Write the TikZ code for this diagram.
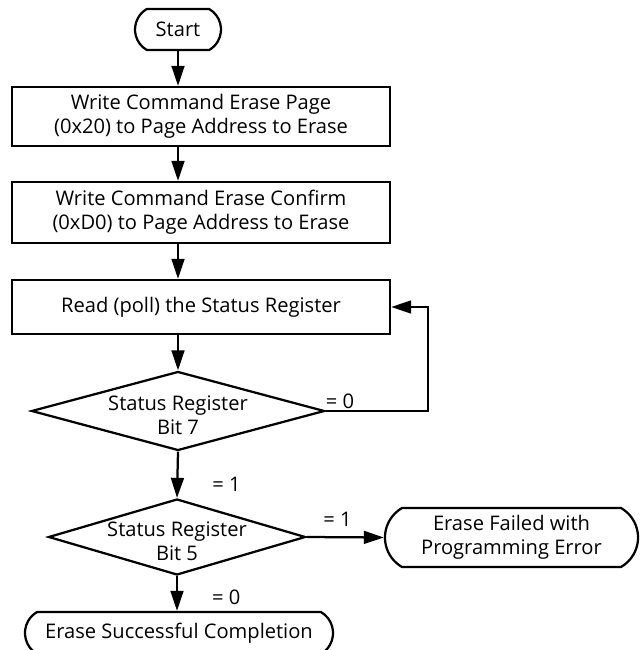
\documentclass[tikz,border=0pt]{standalone}
\usepackage{fontspec}
\setmainfont{Open Sans}
\usepackage{tikz}
\usetikzlibrary{shapes.geometric, shapes.misc, arrows.meta, positioning}
\tikzstyle{terminal} = [rounded rectangle, rounded rectangle arc length=120, minimum height=1.025cm, inner sep=0pt, text centered, align=center, draw=black, line width=1.6pt, font=\fontsize{14.3}{17}\selectfont]
\tikzstyle{process} = [rectangle, minimum width=9.45cm, inner sep=0pt, text centered, align=center, draw=black, line width=1.6pt, font=\fontsize{14.3}{17}\selectfont]
\tikzstyle{decision} = [diamond, aspect=3.7, inner sep=0pt, text centered, draw=black, line width=1.6pt, font=\fontsize{14.3}{17}\selectfont]
\tikzstyle{arrow} = [line width=1.6pt, -{Triangle[length=0.5cm, width=0.32cm]}, draw=black]
\tikzstyle{cond} = [inner sep=0pt, font=\fontsize{14.3}{17}\selectfont]
% text in the diamonds sits a little low
\newcommand{\dtext}[1]{\raisebox{-0.3cm}[0pt][0pt]{\begin{tabular}{@{}c@{}}#1\end{tabular}}}

\begin{document}
\begin{tikzpicture}[x=0.025cm, y=0.025cm]
        \useasboundingbox (0,0) rectangle (640,-650);
        % Nodes
        \node (start) [terminal, minimum width=2.15cm] at (178,-29.5) {Start};
        \node (pro1) [process, minimum height=1.475cm] at (201,-116.5) {Write Command Erase Page\\(0x20) to Page Address to Erase};
        \node (pro2) [process, minimum height=1.525cm] at (201,-212.5) {Write Command Erase Confirm\\(0xD0) to Page Address to Erase};
        \node (poll) [process, minimum height=1.35cm] at (201,-307) {Read (poll) the Status Register};
        \node (bit7) [decision, minimum width=7.325cm, minimum height=1.975cm] at (178,-411) {\dtext{Status Register\\Bit 7}};
        \node (bit5) [decision, minimum width=6.425cm, minimum height=1.9cm] at (177,-537) {\dtext{Status Register\\Bit 5}};
        \node (fail) [terminal, minimum width=6.325cm, minimum height=1.475cm] at (511.5,-537.5) {Erase Failed with\\Programming Error};
        \node (done) [terminal, minimum width=7.7cm, minimum height=1.05cm] at (179,-633) {Erase Successful Completion};
        \coordinate (back) at (428,-411);

        % Arrows
        \draw [arrow] (start.south) -- (start.south |- pro1.north);
        \draw [arrow] (start.south |- pro1.south) -- (start.south |- pro2.north);
        \draw [arrow] (start.south |- pro2.south) -- (start.south |- poll.north);
        \draw [arrow] (bit7.north |- poll.south) -- (bit7.north);

        % polling loop
        \draw [arrow] (bit7.east) -- node[cond, pos=0.14, above=1pt] {= 0} (back) |- (poll.east);
        \draw [arrow] (bit7.south) -- node[cond, pos=0.7, right=0.85cm] {= 1} (bit5.north);
        \draw [arrow] (bit5.east) -- node[cond, pos=0.4, above=0.25cm] {= 1} (fail.west);
        \draw [arrow] (bit5.south) -- node[cond, pos=0.6, right=0.85cm] {= 0} (bit5.south |- done.north);
    \end{tikzpicture}
\end{document}
